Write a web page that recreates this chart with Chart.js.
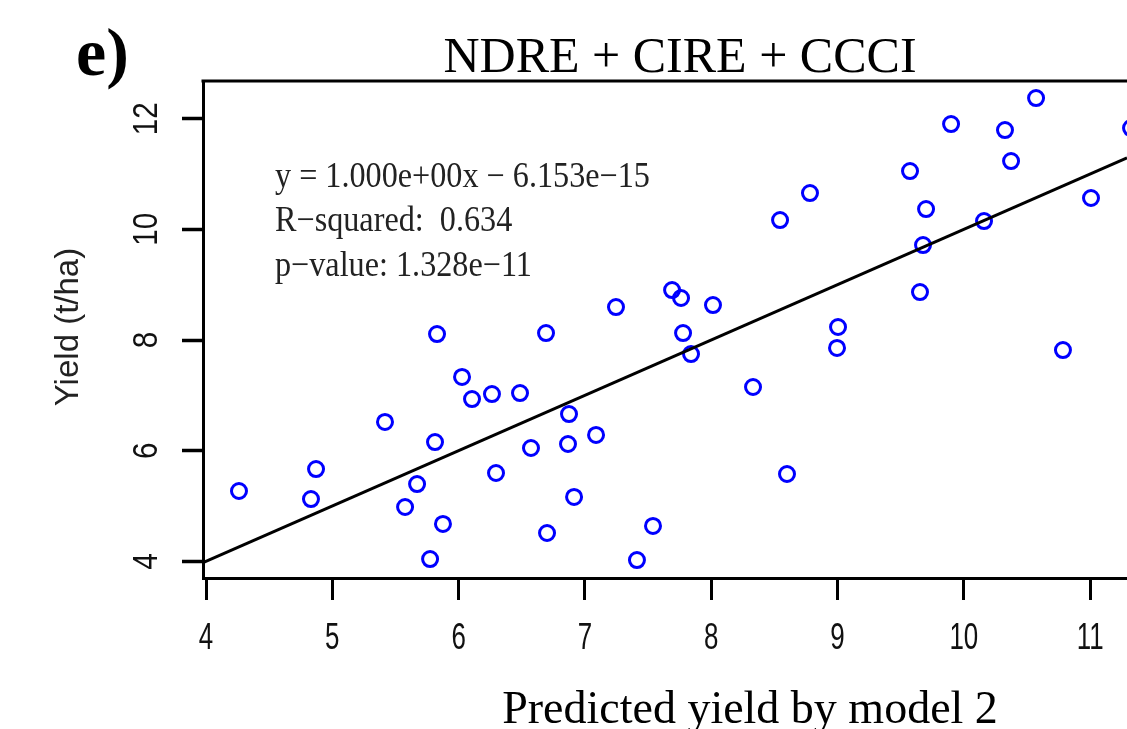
<!DOCTYPE html>
<html>
<head>
<meta charset="utf-8">
<script src="https://cdn.jsdelivr.net/npm/chart.js@4.4.1/dist/chart.umd.min.js"></script>
<style>
  html, body { margin: 0; padding: 0; background: #fff; overflow: hidden; }
  canvas { display: block; }
</style>
</head>
<body>
<canvas id="chart" width="1127" height="729"></canvas>
<script>
// Predicted yield (model 2) against observed yield, t/ha
const predictedYield = [
  4.261, 4.831, 4.871, 5.417, 5.576, 5.671, 5.829, 5.813, 5.876, 5.774,
  6.027, 6.106, 6.264, 6.296, 6.486, 6.573, 6.692, 6.874, 6.866, 6.914,
  6.700, 7.088, 7.246, 7.412, 7.539, 7.690, 7.761, 7.777, 7.840, 8.014,
  8.331, 8.545, 8.600, 8.782, 9.004, 8.996, 9.574, 9.653, 9.677, 9.701,
  9.899, 10.160, 10.326, 10.374, 10.572, 10.785, 11.007, 11.324
];
const observedYield = [
  5.272, 5.127, 5.669, 6.519, 4.983, 5.398, 8.108, 6.157, 4.676, 4.043,
  7.332, 6.934, 7.024, 5.597, 7.042, 6.049, 8.126, 6.663, 6.121, 5.164,
  4.513, 6.284, 8.596, 4.025, 4.640, 8.903, 8.759, 8.126, 7.747, 8.632,
  7.151, 10.168, 5.579, 10.656, 8.235, 7.856, 11.053, 8.867, 9.716, 10.367,
  11.902, 10.150, 11.794, 11.234, 12.372, 7.819, 10.566, 11.830
];

const xTickValues = [4, 5, 6, 7, 8, 9, 10, 11];
const yTickValues = [4, 6, 8, 10, 12];
const xRange = [3.976, 11.292];
const yRange = [3.70, 12.68];

// Linear fit reported on the panel
const fitSlope = 1.000;
const fitIntercept = -6.153e-15;

const panelLabel = 'e)';
const chartTitle = 'NDRE + CIRE + CCCI';
const xTitle = 'Predicted yield by model 2';
const yTitle = 'Yield (t/ha)';
const statLines = [
  'y = 1.000e+00x \u2212 6.153e\u221215',
  'R\u2212squared:  0.634',
  'p\u2212value: 1.328e\u221211'
];

// Plot box edges on the canvas
const plotLeft = 203;
const plotTop = 81;
const plotBottom = 578;

const sans = "'Liberation Sans', Arial, sans-serif";
const serif = "'Liberation Serif', 'DejaVu Serif', serif";

const points = predictedYield.map((x, i) => ({ x, y: observedYield[i] }));
const fitLine = xRange.map(x => ({ x, y: fitSlope * x + fitIntercept }));

// Tick labels use a narrow sans face: regular glyphs squeezed horizontally
function narrowText(ctx, text, x, y, squeeze, angle) {
  ctx.save();
  ctx.translate(x, y);
  if (angle) ctx.rotate(angle);
  ctx.scale(squeeze, 1);
  ctx.fillText(text, 0, 0);
  ctx.restore();
}

const decorations = {
  id: 'decorations',
  afterDraw(chart) {
    const { ctx, chartArea: a, scales: { x, y } } = chart;
    ctx.save();

    // top edge of the plot box
    ctx.strokeStyle = '#000';
    ctx.lineWidth = 3;
    ctx.beginPath();
    ctx.moveTo(a.left - 1.5, a.top);
    ctx.lineTo(a.right, a.top);
    ctx.stroke();

    ctx.fillStyle = '#111';
    ctx.textAlign = 'center';
    ctx.textBaseline = 'alphabetic';

    // x tick labels
    ctx.font = '36px ' + sans;
    x.ticks.forEach(t => {
      narrowText(ctx, String(t.value), x.getPixelForValue(t.value), 649, 0.72, 0);
    });

    // y tick labels, reading upwards
    ctx.font = '35px ' + sans;
    y.ticks.forEach(t => {
      narrowText(ctx, String(t.value), 157, y.getPixelForValue(t.value), 0.85, -Math.PI / 2);
    });

    // y axis title
    ctx.save();
    ctx.font = '33px ' + sans;
    ctx.fillStyle = '#222';
    ctx.textBaseline = 'middle';
    ctx.translate(69, 327);
    ctx.rotate(-Math.PI / 2);
    ctx.fillText(yTitle, 0, 0);
    ctx.restore();

    // panel letter and title
    ctx.fillStyle = '#000';
    ctx.textAlign = 'left';
    ctx.font = 'bold 68px ' + serif;
    ctx.fillText(panelLabel, 76, 75);

    ctx.textAlign = 'center';
    ctx.font = '50px ' + serif;
    ctx.fillText(chartTitle, 680, 72);

    // x axis title
    ctx.font = '46px ' + serif;
    ctx.fillText(xTitle, 750, 723);

    // regression statistics
    ctx.textAlign = 'left';
    ctx.fillStyle = '#222';
    ctx.font = '35px ' + serif;
    const baselines = [187, 231, 276];
    statLines.forEach((line, i) => narrowText(ctx, line, 275, baselines[i], 0.92, 0));

    ctx.restore();
  }
};

new Chart(document.getElementById('chart'), {
  type: 'scatter',
  data: {
    datasets: [
      {
        type: 'line',
        data: fitLine,
        borderColor: '#000',
        borderWidth: 3,
        pointRadius: 0,
        fill: false,
        order: 0
      },
      {
        type: 'scatter',
        data: points,
        pointStyle: 'circle',
        pointRadius: 7.5,
        pointBorderWidth: 3,
        borderColor: '#0000ff',
        backgroundColor: 'rgba(0,0,0,0)',
        pointBackgroundColor: 'rgba(0,0,0,0)',
        pointBorderColor: '#0000ff',
        clip: false,
        order: 1
      }
    ]
  },
  options: {
    responsive: false,
    animation: false,
    events: [],
    layout: { autoPadding: false, padding: { top: plotTop, right: 0, bottom: 0, left: 0 } },
    plugins: { legend: { display: false }, tooltip: { enabled: false } },
    scales: {
      x: {
        type: 'linear',
        min: xRange[0],
        max: xRange[1],
        afterBuildTicks: s => { s.ticks = xTickValues.map(v => ({ value: v })); },
        afterFit: s => {
          s.height = s.chart.height - plotBottom;
          s.paddingLeft = 0;
          s.paddingRight = 0;
        },
        grid: { drawOnChartArea: false, drawTicks: true, tickLength: 22, tickWidth: 3, tickColor: '#000' },
        border: { display: true, color: '#000', width: 3 },
        ticks: { display: false }
      },
      y: {
        type: 'linear',
        min: yRange[0],
        max: yRange[1],
        afterBuildTicks: s => { s.ticks = yTickValues.map(v => ({ value: v })); },
        afterFit: s => {
          s.width = plotLeft;
          s.paddingTop = 0;
          s.paddingBottom = 0;
        },
        grid: { drawOnChartArea: false, drawTicks: true, tickLength: 21, tickWidth: 3.5, tickColor: '#000' },
        border: { display: true, color: '#000', width: 3 },
        ticks: { display: false }
      }
    }
  },
  plugins: [decorations]
});
</script>
</body>
</html>
